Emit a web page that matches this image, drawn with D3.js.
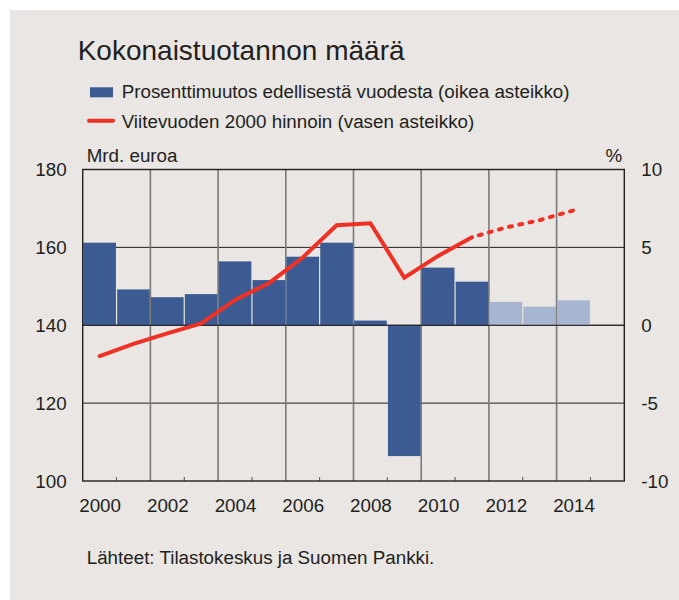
<!DOCTYPE html>
<html>
<head>
<meta charset="utf-8">
<script src="https://cdn.jsdelivr.net/npm/d3@7"></script>
<style>
  body { margin: 0; background: #fff; }
  text { font-family: "Liberation Sans", Arial, sans-serif; fill: #231f20; }
</style>
</head>
<body>
<svg id="chart" width="679" height="600"></svg>
<script>
// vuodet ja arvot
const years = [2000, 2001, 2002, 2003, 2004, 2005, 2006, 2007, 2008, 2009, 2010, 2011, 2012, 2013, 2014]
// prosenttimuutos edellisestä vuodesta (oikea asteikko)
const growth = [5.3, 2.3, 1.8, 2.0, 4.1, 2.9, 4.4, 5.3, 0.3, -8.4, 3.7, 2.8, 1.5, 1.2, 1.6]
// ennustevuodet (vaalea palkki, katkoviiva)
const forecastFrom = 2012
// viitevuoden 2000 hinnoin, mrd. euroa (vasen asteikko)
const volume = [132.1, 135.2, 137.9, 140.5, 146.5, 150.8, 157.4, 165.7, 166.2, 152.2, 157.8, 162.6, 165.1, 167.0, 169.5]

const leftTicks = [100, 120, 140, 160, 180]
const rightTicks = [-10, -5, 0, 5, 10]
const yearLabels = [2000, 2002, 2004, 2006, 2008, 2010, 2012, 2014]

const fontSize = '18.8px'

const svg = d3.select('#chart')

svg.append('rect')
  .attr('x', 10).attr('y', 10)
  .attr('width', 669).attr('height', 590)
  .attr('fill', '#e9e6e3')

const plot = { left: 82.7, right: 624.3, top: 169.5, bottom: 481 }

const x = d3.scaleLinear().domain([2000, 2016]).range([plot.left, plot.right])
const yLeft = d3.scaleLinear().domain([100, 180]).range([plot.bottom, plot.top])
const yRight = d3.scaleLinear().domain([-10, 10]).range([plot.bottom, plot.top])

// otsikko ja selitteet
svg.append('text')
  .attr('x', 77.7).attr('y', 60)
  .style('font-size', '28px')
  .text('Kokonaistuotannon määrä')

svg.append('rect')
  .attr('x', 90).attr('y', 87.3)
  .attr('width', 23).attr('height', 10)
  .attr('fill', '#3b5b92')
svg.append('text')
  .attr('x', 121.7).attr('y', 98.3)
  .style('font-size', fontSize)
  .text('Prosenttimuutos edellisestä vuodesta (oikea asteikko)')

svg.append('line')
  .attr('x1', 89).attr('x2', 113)
  .attr('y1', 120.7).attr('y2', 120.7)
  .attr('stroke', '#ee3124').attr('stroke-width', 4)
  .attr('stroke-linecap', 'round')
svg.append('text')
  .attr('x', 121.7).attr('y', 128.3)
  .style('font-size', fontSize)
  .text('Viitevuoden 2000 hinnoin (vasen asteikko)')

svg.append('text')
  .attr('x', 86.7).attr('y', 162.3)
  .style('font-size', fontSize)
  .text('Mrd. euroa')
svg.append('text')
  .attr('x', 622.3).attr('y', 162.3)
  .attr('text-anchor', 'end')
  .style('font-size', fontSize)
  .text('%')

// ruudukko
const grid = svg.append('g')
grid.selectAll('line.h')
  .data(leftTicks.slice(1, -1))
  .enter()
  .append('line')
  .attr('x1', plot.left).attr('x2', plot.right)
  .attr('y1', (d) => yLeft(d)).attr('y2', (d) => yLeft(d))
  .attr('stroke', '#231f20').attr('stroke-width', 1)

grid.selectAll('line.v')
  .data(d3.range(2002, 2016, 2))
  .enter()
  .append('line')
  .attr('x1', (d) => x(d)).attr('x2', (d) => x(d))
  .attr('y1', plot.top).attr('y2', plot.bottom)
  .attr('stroke', '#7c7a79').attr('stroke-width', 1.6)

grid.selectAll('line.minor')
  .data(d3.range(2001, 2016, 2))
  .enter()
  .append('line')
  .attr('x1', (d) => x(d)).attr('x2', (d) => x(d))
  .attr('y1', plot.bottom - 4).attr('y2', plot.bottom)
  .attr('stroke', '#555').attr('stroke-width', 1)

// palkit
const bars = years.map((year, i) => ({ year, value: growth[i] }))
svg.append('g')
  .selectAll('rect')
  .data(bars)
  .enter()
  .append('rect')
  .attr('x', (d) => x(d.year) + 0.6)
  .attr('width', (d) => x(d.year + 1) - x(d.year) - 1.2)
  .attr('y', (d) => yRight(Math.max(0, d.value)))
  .attr('height', (d) => Math.abs(yRight(d.value) - yRight(0)))
  .attr('fill', (d) => d.year >= forecastFrom ? '#a6b6d0' : '#3b5b92')

// nollaviiva
svg.append('line')
  .attr('x1', plot.left).attr('x2', plot.right)
  .attr('y1', yRight(0)).attr('y2', yRight(0))
  .attr('stroke', '#231f20').attr('stroke-width', 1)

// viiva
const points = years.map((year, i) => ({ year, value: volume[i] }))
const line = d3.line()
  .x((d) => x(d.year + 0.5))
  .y((d) => yLeft(d.value))

svg.append('path')
  .datum(points.filter((d) => d.year < forecastFrom))
  .attr('d', line)
  .attr('fill', 'none')
  .attr('stroke', '#ee3124').attr('stroke-width', 4)
  .attr('stroke-linejoin', 'miter')
  .attr('stroke-linecap', 'round')

svg.append('path')
  .datum(points.filter((d) => d.year >= forecastFrom - 1))
  .attr('d', line)
  .attr('fill', 'none')
  .attr('stroke', '#ee3124').attr('stroke-width', 4)
  .attr('stroke-linecap', 'round')
  .attr('stroke-dasharray', '3,7.5')
  .attr('stroke-dashoffset', -7)

// kehys
svg.append('rect')
  .attr('x', plot.left).attr('y', plot.top)
  .attr('width', plot.right - plot.left).attr('height', plot.bottom - plot.top)
  .attr('fill', 'none')
  .attr('stroke', '#231f20').attr('stroke-width', 1.4)

// akselit
const axisFont = (g) => {
  g.select('.domain').remove()
  g.selectAll('.tick line').remove()
  g.selectAll('text')
    .style('font-size', fontSize)
    .style('font-family', '"Liberation Sans", Arial, sans-serif')
    .attr('fill', '#231f20')
}

svg.append('g')
  .attr('transform', `translate(${plot.left},0)`)
  .call(d3.axisLeft(yLeft).tickValues(leftTicks).tickSize(0).tickPadding(16))
  .call(axisFont)

svg.append('g')
  .attr('transform', `translate(${plot.right},0)`)
  .call(d3.axisRight(yRight).tickValues(rightTicks).tickSize(0).tickPadding(17)
    .tickFormat((d) => d < 0 ? '-' + Math.abs(d) : d))
  .call(axisFont)

svg.append('g')
  .attr('transform', `translate(0,${plot.bottom})`)
  .call(d3.axisBottom(x).tickValues(yearLabels.map((d) => d + 0.5)).tickSize(0).tickPadding(17.4)
    .tickFormat((d) => String(Math.floor(d))))
  .call(axisFont)

svg.append('text')
  .attr('x', 86.7).attr('y', 564.3)
  .style('font-size', fontSize)
  .text('Lähteet: Tilastokeskus ja Suomen Pankki.')
</script>
</body>
</html>
